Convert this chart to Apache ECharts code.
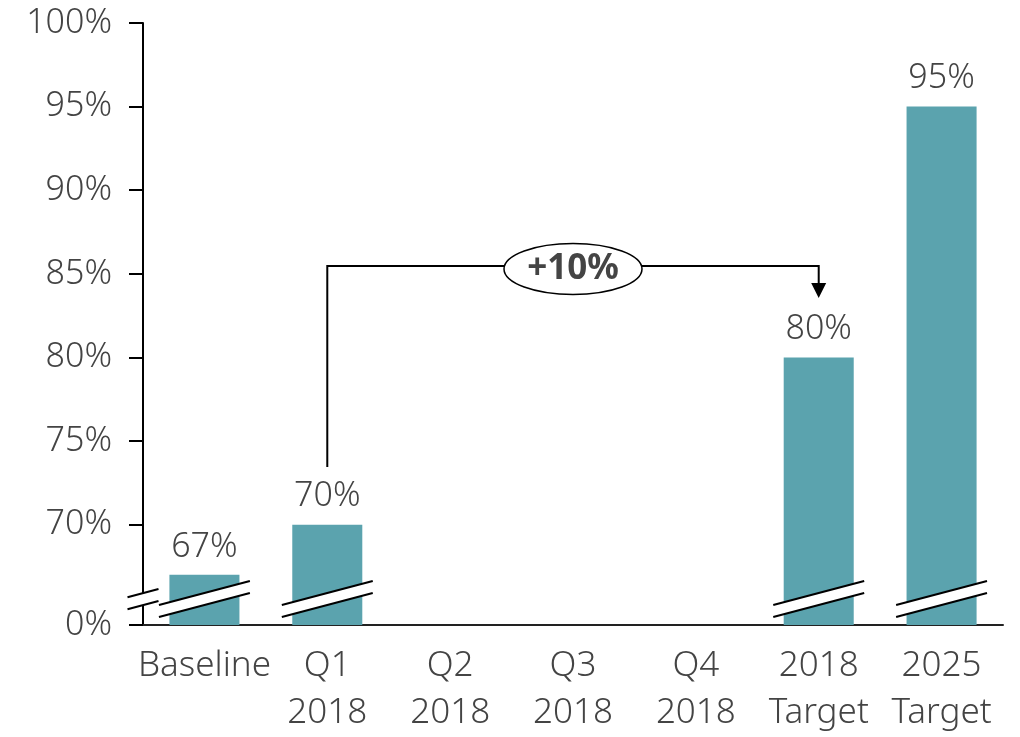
<!DOCTYPE html>
<html>
<head>
<meta charset="utf-8">
<script src="https://cdn.jsdelivr.net/npm/echarts@6/dist/echarts.min.js"></script>
<style>html,body{margin:0;padding:0;background:#fff}#c{width:1020px;height:737px}</style>
</head>
<body>
<div id="c"></div>
<script>
// ---- data ----
const categories = ['Baseline', 'Q1\n2018', 'Q2\n2018', 'Q3\n2018', 'Q4\n2018', '2018\nTarget', '2025\nTarget'];
const values = [67, 70, null, null, null, 80, 95];
const yTickValues = [64, 70, 75, 80, 85, 90, 95, 100];   // 64 is the broken-axis position labelled 0%
const yTickLabels = ['0%', '70%', '75%', '80%', '85%', '90%', '95%', '100%'];
const breakCategories = [0, 1, 5, 6];
const annotationText = '+10%';
// annotation: from Q1 (index 1) to 2018 Target (index 5), label centred on Q3 (index 3)
const annFrom = 1, annTo = 5, annMid = 3;
const annStartV = 73.45, annTopV = 85.47, annEndV = 83.56;

const AXIS_MIN = 64, AXIS_MAX = 100, BREAK_V = 65.55;
const FONT = '"Noto Sans", "DejaVu Sans", sans-serif';
const TXT = '#444444';
const BAR = '#5BA3AE';

const chart = echarts.init(document.getElementById('c'), null, {renderer: 'canvas'});

function breakShape(cx, cy, w) {
  const s = 0.264, g = 6;
  const ul = [cx - w, cy - g + s * w], ur = [cx + w, cy - g - s * w];
  const ll = [cx - w, cy + g + s * w], lr = [cx + w, cy + g - s * w];
  return {
    type: 'group',
    children: [
      {type: 'polygon', shape: {points: [ul, ur, lr, ll]}, style: {fill: '#fff', stroke: null}},
      {type: 'line', shape: {x1: ul[0], y1: ul[1], x2: ur[0], y2: ur[1]}, style: {stroke: '#000', lineWidth: 2}},
      {type: 'line', shape: {x1: ll[0], y1: ll[1], x2: lr[0], y2: lr[1]}, style: {stroke: '#000', lineWidth: 2}}
    ]
  };
}

const breakData = breakCategories.map(i => [i, BREAK_V, 0]).concat([[0, BREAK_V, 1]]);

chart.setOption({
  animation: false,
  backgroundColor: '#fff',
  grid: {left: 143, right: 17, top: 23, bottom: 112, containLabel: false},
  xAxis: {
    type: 'category',
    data: categories,
    axisLine: {lineStyle: {color: '#222', width: 2}},
    axisTick: {show: false},
    axisLabel: {interval: 0, color: TXT, fontFamily: FONT, fontWeight: 300, fontSize: 35, lineHeight: 47, margin: 18}
  },
  yAxis: {
    type: 'value',
    min: AXIS_MIN, max: AXIS_MAX,
    splitLine: {show: false},
    axisLine: {show: true, lineStyle: {color: '#000', width: 2}},
    axisTick: {show: true, length: 14, lineStyle: {color: '#000', width: 2}, customValues: yTickValues},
    axisLabel: {
      color: TXT, fontFamily: FONT, fontWeight: 300, fontSize: 34, margin: 31,
      customValues: yTickValues,
      formatter: v => yTickLabels[yTickValues.indexOf(v)]
    }
  },
  series: [
    {
      type: 'bar',
      data: values,
      barWidth: '57%',
      itemStyle: {color: BAR},
      label: {show: true, position: 'top', distance: 11, formatter: p => p.value + '%', color: TXT, fontFamily: FONT, fontWeight: 300, fontSize: 34}
    },
    {
      type: 'custom',
      z: 5,
      clip: false,
      data: breakData,
      encode: {x: 0, y: 1},
      renderItem: (params, api) => {
        const p = api.coord([api.value(0), api.value(1)]);
        const band = api.size([1, 0])[0];
        if (api.value(2) === 1) {
          return breakShape(p[0] - band / 2, p[1], 15.5);
        }
        return breakShape(p[0], p[1], band * 0.37);
      }
    },
    {
      type: 'custom',
      z: 6,
      clip: false,
      data: [[annFrom, annStartV, annTopV, annTo, annEndV, annMid]],
      encode: {x: 0, y: 1},
      renderItem: (params, api) => {
        const start = api.coord([api.value(0), api.value(1)]);
        const top = api.coord([api.value(0), api.value(2)]);
        const end = api.coord([api.value(3), api.value(4)]);
        const mid = api.coord([api.value(5), api.value(2)]);
        const headH = 15, headW = 7.5;
        return {
          type: 'group',
          children: [
            {type: 'polyline', shape: {points: [start, top, [end[0], top[1]], [end[0], end[1] - headH + 1]]},
             style: {stroke: '#000', lineWidth: 2, fill: null}},
            {type: 'polygon', shape: {points: [[end[0] - headW, end[1] - headH], [end[0] + headW, end[1] - headH], [end[0], end[1]]]},
             style: {fill: '#000'}},
            {type: 'ellipse', shape: {cx: mid[0], cy: mid[1] + 3, rx: 69, ry: 25.5},
             style: {fill: '#fff', stroke: '#000', lineWidth: 1.5}},
            {type: 'text', style: {text: annotationText, x: mid[0], y: mid[1] + 3, align: 'center', verticalAlign: 'middle',
             fontFamily: FONT, fontSize: 35, fontWeight: 'bold', fill: TXT}}
          ]
        };
      }
    }
  ]
});
</script>
</body>
</html>
